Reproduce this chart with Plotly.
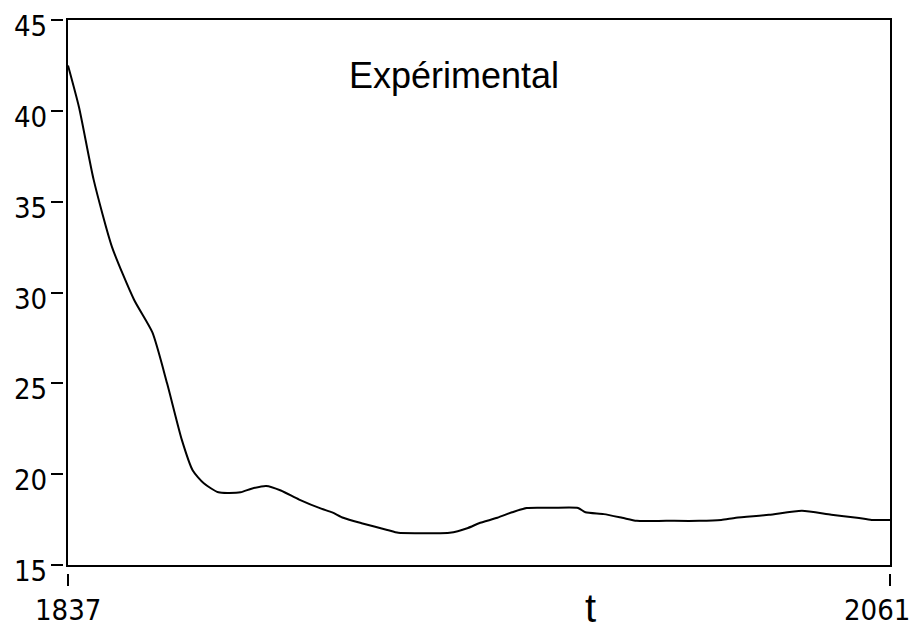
import plotly.graph_objects as go

# Experimental series: year vs measured value
years = [1837, 1840, 1844, 1849, 1855, 1860, 1864, 1868, 1871, 1874, 1878,
         1884, 1887, 1891, 1895, 1900, 1906, 1909, 1912, 1917, 1924, 1927,
         1934, 1941, 1946, 1949, 1954, 1958, 1962, 1969, 1976, 1978, 1983,
         1988, 1992, 2000, 2009, 2015, 2019, 2028, 2037, 2045, 2052, 2056, 2061]
values = [42.5, 40.2, 36.2, 32.5, 29.6, 27.8, 25.0, 21.9, 20.2, 19.5, 19.0,
          19.0, 19.2, 19.35, 19.1, 18.6, 18.1, 17.9, 17.6, 17.3, 16.93, 16.77,
          16.75, 16.77, 17.04, 17.3, 17.6, 17.9, 18.14, 18.15, 18.14, 17.9, 17.8,
          17.6, 17.43, 17.43, 17.43, 17.48, 17.6, 17.76, 17.98, 17.76, 17.6, 17.48, 17.48]

x_ticks = [1837, 2061]
y_ticks = [15, 20, 25, 30, 35, 40, 45]
x_range = [1837, 2061]
y_range = [15, 45]

tick_font = dict(family="Liberation Sans Narrow, DejaVu Sans Condensed, Arial Narrow, sans-serif",
                 size=29, color="black")
text_font = "Liberation Sans, Arial, sans-serif"

W, H = 916, 631
ML, MR, MT, MB = 60, 26, 20, 58
plot_w = W - ML - MR
plot_h = H - MT - MB
gap = 8  # detached tick marks sit a few pixels off the frame


def px(x):
    """page x pixel -> paper fraction"""
    return (x - ML) / plot_w


def py(y):
    """page y pixel -> paper fraction"""
    return (H - MB - y) / plot_h


fig = go.Figure()
fig.add_trace(go.Scatter(x=years, y=values, mode="lines",
                         line=dict(color="black", width=2, shape="spline", smoothing=0.6),
                         showlegend=False, xaxis="x", yaxis="y"))
# empty trace so the detached tick-mark axes get drawn
fig.add_trace(go.Scatter(x=[], y=[], xaxis="x2", yaxis="y2", showlegend=False,
                         hoverinfo="skip"))

frame = dict(showline=True, linecolor="black", linewidth=2, mirror=True,
             showgrid=False, zeroline=False, automargin=False)

fig.update_layout(
    width=W, height=H,
    margin=dict(l=ML, r=MR, t=MT, b=MB),
    paper_bgcolor="white", plot_bgcolor="white",
    xaxis=dict(range=x_range, domain=[gap / plot_w, 1], tickvals=x_ticks,
               ticks="", showticklabels=False, anchor="y", **frame),
    yaxis=dict(range=y_range, domain=[gap / plot_h, 1], tickvals=y_ticks,
               ticks="", tickfont=tick_font, ticklabelstandoff=13,
               ticklabelshift=6, ticklabeloverflow="allow", anchor="x", **frame),
    xaxis2=dict(range=x_range, overlaying="x", anchor="free", position=0,
                tickvals=x_ticks, ticks="outside", ticklen=12, tickwidth=2,
                tickcolor="black", showticklabels=False, showline=False,
                showgrid=False, zeroline=False, automargin=False),
    yaxis2=dict(range=y_range, overlaying="y", anchor="free", position=3 / plot_w,
                side="left", tickvals=y_ticks, ticks="outside", ticklen=12, tickwidth=2,
                tickcolor="black", showticklabels=False, showline=False,
                showgrid=False, zeroline=False, automargin=False),
    annotations=[
        dict(text="Expérimental", xref="paper", yref="paper", x=px(454), y=py(75),
             xanchor="center", yanchor="middle", showarrow=False,
             font=dict(family=text_font, size=36, color="black")),
        dict(text="t", xref="paper", yref="paper", x=px(590), y=py(608),
             xanchor="center", yanchor="middle", showarrow=False,
             font=dict(family=text_font, size=40, color="black")),
        dict(text=str(x_ticks[0]), xref="x", yref="paper", x=x_ticks[0], y=py(610),
             xanchor="center", yanchor="middle", showarrow=False, font=tick_font),
        dict(text=str(x_ticks[1]), xref="x", yref="paper", x=x_ticks[1], y=py(610),
             xanchor="right", yanchor="middle", xshift=22, showarrow=False, font=tick_font),
    ],
)

fig.write_html("out.html")
